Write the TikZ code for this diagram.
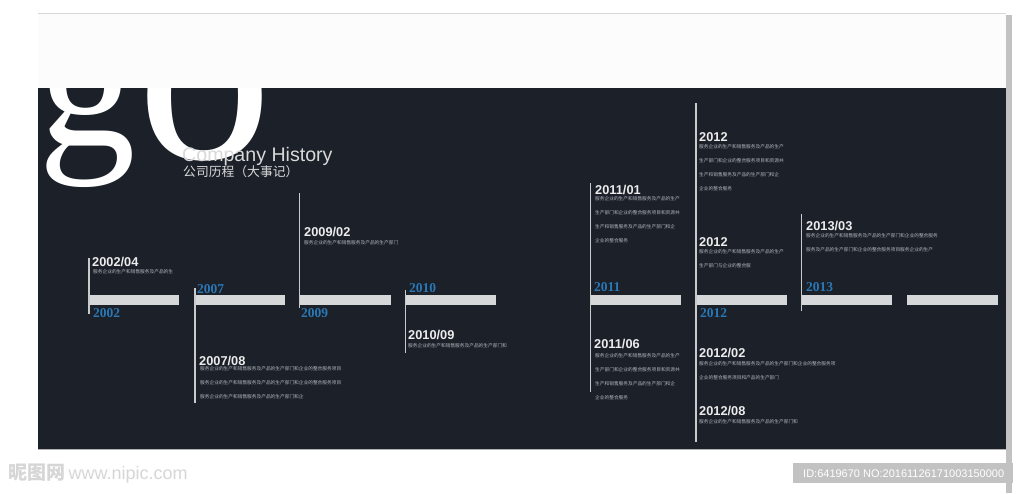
\documentclass[tikz,border=0pt]{standalone}
\usepackage{fontspec}
\setmainfont{Liberation Serif}
\setsansfont{Liberation Sans}
\newfontfamily\cjk{Noto Sans CJK SC}
\usetikzlibrary{positioning}
\usepackage{xcolor}
\definecolor{panel}{HTML}{1B2029}
\definecolor{barfill}{HTML}{D6D7D8}
\definecolor{yearblue}{HTML}{2A78B6}
\definecolor{datewhite}{HTML}{ECECEC}
\definecolor{notegray}{HTML}{B4B8BE}
\definecolor{pageline}{HTML}{D8D8D8}

\begin{document}
\begin{tikzpicture}[
                x=1pt, y=-1pt,
                bar/.style={fill=barfill, draw=none},
                stem/.style={draw=barfill!85!gray, line width=1.7pt},
                year/.style={text=yearblue, inner sep=0pt, anchor=base west,
                    font=\fontsize{13.5}{14}\bfseries\selectfont},
                date/.style={text=datewhite, inner sep=0pt, anchor=base west,
                    font=\sffamily\fontsize{12.8}{14}\bfseries\selectfont},
                note/.style={text=notegray, inner sep=0pt, anchor=north west,
                    align=left, font=\cjk\fontsize{4.7}{14}\selectfont}
            ]
                \useasboundingbox (0, 0) rectangle (1024, 493);
                \fill[white] (0, 0) rectangle (1024, 493);
                % page and panel
                \fill[black!24] (1006, 15) rectangle (1012, 493);
                \fill[white!99!black] (38, 13) rectangle (1006, 450);
                \draw[pageline] (38, 13.5) -- (1006, 13.5);
                \fill[panel] (38, 88) rectangle (1006, 449);
                \draw[black!30] (38, 449.5) -- (1006, 449.5);
                % big letters, clipped to the panel
                \begin{scope}
                    \clip (38, 88) rectangle (1006, 449);
                    \node[text=white, inner sep=0pt, anchor=base west,
                        font=\fontsize{195}{195}\selectfont] (g) at (38, 145) {g};
                    \node[text=white, inner sep=0pt, anchor=base west,
                        font=\fontsize{270}{270}\selectfont] (o) at (137, 158) {o};
                \end{scope}
                \node[text=datewhite!92!black, inner sep=0pt, anchor=base west,
                    font=\sffamily\fontsize{19.6}{22}\selectfont] (title) at (182, 161) {Company History};
                \node[text=datewhite!92!black, inner sep=0pt, anchor=base west,
                    font=\cjk\fontsize{12.8}{14}\selectfont] (subtitle) at (183, 176.5) {公司历程（大事记）};
                % bars
                \foreach \x in {88, 194.5, 300, 405.5, 590.5, 696, 801.5, 907}
                    \fill[bar] (\x, 295) rectangle ++(90.5, 9.5);
                % stems
                \draw[stem] (89, 258) -- (89, 314);
                \draw[stem] (195, 288) -- (195, 403);
                \draw[stem] (299.5, 193) -- (299.5, 308);
                \draw[stem] (405.5, 290) -- (405.5, 353);
                \draw[stem] (590.5, 183) -- (590.5, 392);
                \draw[stem] (696, 103) -- (696, 442);
                \draw[stem] (801.5, 214) -- (801.5, 311);
                % years
                \node[year] (y2002) at (93, 317) {2002};
                \node[year] (y2007) at (197, 293) {2007};
                \node[year] (y2009) at (301, 317) {2009};
                \node[year] (y2010) at (409, 292) {2010};
                \node[year] (y2011) at (594, 291) {2011};
                \node[year] (y2012) at (700, 317) {2012};
                \node[year] (y2013) at (806, 291) {2013};
                % events, left part
                \node[date] (d200204) at (92, 266) {2002/04};
                \node[note] (n200204) at (93, 269.7) {服务企业的生产和销售服务及产品的生};
                \node[date] (d200708) at (199, 365) {2007/08};
                \node[note] (n200708) at (200, 366.7) {服务企业的生产和销售服务及产品的生产部门和企业的整合服务项目\\
                    服务企业的生产和销售服务及产品的生产部门和企业的整合服务项目\\
                    服务企业的生产和销售服务及产品的生产部门和企};
                \node[date] (d200902) at (304, 236) {2009/02};
                \node[note] (n200902) at (304, 240.7) {服务企业的生产和销售服务及产品的生产部门};
                \node[date] (d201009) at (408, 339) {2010/09};
                \node[note] (n201009) at (408, 343.7) {服务企业的生产和销售服务及产品的生产部门和};
                % events, right part
                \node[date] (d201101) at (595, 194) {2011/01};
                \node[note] (n201101) at (595, 196.7) {服务企业的生产和销售服务及产品的生产\\
                    生产部门和企业的整合服务项目和资源共\\
                    生产和销售服务及产品的生产部门和企\\
                    企业的整合服务};
                \node[date] (d201106) at (594, 348) {2011/06};
                \node[note] (n201106) at (595, 353.7) {服务企业的生产和销售服务及产品的生产\\
                    生产部门和企业的整合服务项目和资源共\\
                    生产和销售服务及产品的生产部门和企\\
                    企业的整合服务};
                \node[date] (d2012a) at (699, 141) {2012};
                \node[note] (n2012a) at (699, 144.7) {服务企业的生产和销售服务及产品的生产\\
                    生产部门和企业的整合服务项目和资源共\\
                    生产和销售服务及产品的生产部门和企\\
                    企业的整合服务};
                \node[date] (d2012b) at (699, 246) {2012};
                \node[note] (n2012b) at (699, 249.7) {服务企业的生产和销售服务及产品的生产\\
                    生产部门与企业的整合服};
                \node[date] (d201303) at (806, 230) {2013/03};
                \node[note] (n201303) at (806, 233.7) {服务企业的生产和销售服务及产品的生产部门和企业的整合服务\\
                    服务及产品的生产部门和企业的整合服务项目服务企业的生产};
                \node[date] (d201202) at (699, 357) {2012/02};
                \node[note] (n201202) at (699, 361.7) {服务企业的生产和销售服务及产品的生产部门和企业的整合服务项\\
                    企业的整合服务项目和产品的生产部门};
                \node[date] (d201208) at (699, 415) {2012/08};
                \node[note] (n201208) at (699, 419.7) {服务企业的生产和销售服务及产品的生产部门和};
                % watermark
                \node[text=black!16, inner sep=0pt, anchor=base west,
                    font=\cjk\fontsize{19}{20}\bfseries\selectfont] (mark) at (8, 479) {昵图网};
                \node[text=black!16, inner sep=0pt,
                    font=\sffamily\fontsize{18}{20}\selectfont, right=3pt of mark.base east, anchor=base west] (site) {www.nipic.com};
                \fill[black!24] (793, 463) rectangle (1013, 483);
                \node[text=white, inner sep=0pt, anchor=base west,
                    font=\sffamily\fontsize{11}{12}\selectfont] (id) at (803, 477) {ID:6419670 NO:20161126171003150000};
            \end{tikzpicture}
\end{document}
